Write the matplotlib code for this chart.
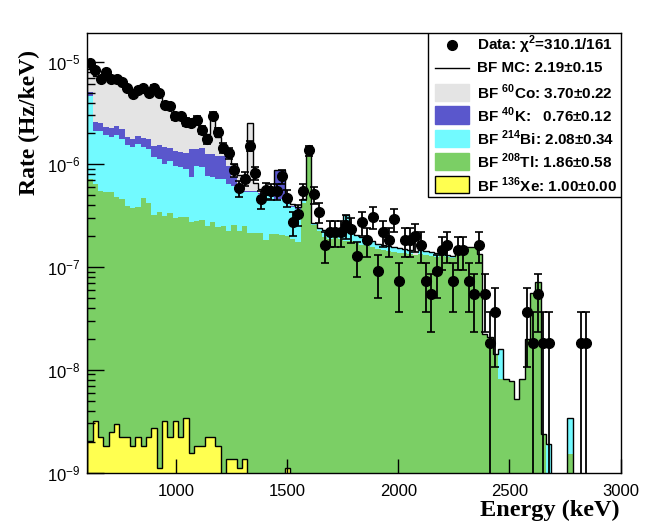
import numpy as np
import matplotlib
matplotlib.use("Agg")
import matplotlib.pyplot as plt
from matplotlib.patches import Rectangle
from matplotlib.ticker import FixedLocator, NullLocator, NullFormatter

# binning of the spectrum (keV)
e_min, e_max, bin_width = 600, 3000, 24

# measured counts per bin and the rate one count corresponds to
data_counts = [535, 454, 370, 438, 376, 376, 349, 301, 264, 289,
               301, 269, 305, 273, 207, 204, 162, 161, 143, 139,
               149, 119, 97, 164, 114, 80, 71, 48, 32, 40,
               83, 45, 25, 31, 30, 30, 42, 26, 15, 18,
               30, 75, 28, 19, 9, 12, 12, 12, 14, 13,
               7, 15, 10, 17, 5, 12, 10, 16, 4, 10,
               10, 11, 9, 4, 3, 5, 8, 9, 4, 8,
               8, 4, 3, 9, 3, 1, 2, 0, 0, 0,
               0, 0, 2, 1, 3, 1, 1, 0, 0, 0,
               0, 0, 1, 1, 0, 0, 0, 0, 0, 0]
rate_per_count = 1.82e-8  # Hz/keV

# best-fit MC components
xe_1e9 = [2.02, 3.17, 2.23, 1.81, 2.49, 2.99, 2.23, 2.23, 1.81, 2.23,
          1.81, 2.23, 2.73, 1.11, 3.17, 2.23, 3.17, 2.23, 3.36, 1.56,
          1.81, 1.81, 2.23, 2.23, 1.81, 0, 1.36, 1.36, 1.11, 1.36,
          0, 0, 0, 0, 0, 0, 0, 1.1, 0, 0,
          0, 0, 0, 0, 0, 0, 0, 0, 0, 0,
          0, 0, 0, 0, 0, 0, 0, 0, 0, 0,
          0, 0, 0, 0, 0, 0, 0, 0, 0, 0,
          0, 0, 0, 0, 0, 0, 0, 0, 0, 0,
          0, 0, 0, 0, 0, 0, 0, 0, 0, 0,
          0, 0, 0, 0, 0, 0, 0, 0, 0, 0]
tl_1e7 = [7.20, 6.42, 5.49, 5.37, 5.37, 4.79, 4.59, 3.92, 3.74, 3.83,
          4.70, 4.19, 3.19, 3.43, 3.12, 3.34, 2.98, 3.05, 3.04, 2.73,
          2.79, 2.85, 2.49, 2.73, 2.44, 2.51, 2.23, 2.56, 2.23, 2.50,
          2.15, 2.15, 2.15, 1.83, 2.10, 2.10, 2.05, 2.00, 1.88, 1.75,
          4.21, 13.85, 2.57, 2.24, 1.96, 1.88, 1.96, 1.88, 1.79, 1.79,
          1.71, 1.64, 1.60, 1.57, 1.50, 1.47, 1.43, 1.40, 1.37, 1.37,
          1.34, 1.31, 1.34, 1.31, 1.28, 1.25, 1.28, 1.25, 1.22, 1.34,
          1.53, 1.53, 1.53, 1.31, 0.222, 0.208, 0.142, 0.081, 0.081, 0.077,
          0.052, 0.081, 0.198, 0.557, 0.714, 0.0235, 0.008, 0, 0, 0,
          0.015, 0, 0, 0, 0, 0, 0, 0, 0, 0]
bi_1e7 = [39.4, 14.75, 15.7, 14.0, 13.2, 14.6, 13.1, 11.6, 11.1, 12.0,
          10.1, 9.96, 8.62, 7.87, 6.96, 7.46, 6.66, 6.38, 5.97, 4.80,
          6.86, 6.58, 5.21, 4.80, 4.76, 4.71, 4.21, 3.60, 3.27, 2.88,
          3.24, 3.24, 3.01, 3.33, 2.72, 2.51, 2.56, 2.11, 1.97, 1.93,
          0.30, 0.32, 0.12, 0.16, 0.34, 0.36, 0.28, 0.47, 1.43, 0.36,
          0.34, 0.32, 0.28, 0.22, 0.18, 0.17, 0.17, 0.17, 0.16, 0.13,
          0.13, 0.0, 0.13, 0.12, 0.12, 0.12, 0.06, 0.06, 0.06, 0.03,
          0.04, 0.04, 0.04, 0.03, 0, 0, 0, 0.077, 0, 0,
          0, 0, 0, 0, 0, 0, 0.011, 0, 0, 0,
          0.019, 0, 0, 0, 0, 0, 0, 0, 0, 0]
k_1e7 = [4.36, 4.78, 4.21, 3.82, 4.16, 4.35, 4.46, 3.05, 2.92, 3.12,
         3.32, 3.57, 3.31, 4.19, 4.71, 3.67, 3.87, 3.79, 3.91, 6.62,
         4.50, 5.04, 4.94, 5.11, 4.88, 4.88, 3.22, 1.38, 0.26, 0.12,
         0.12, 0.12, 0.12, 0.12, 0.12, 4.23, 4.23, 0.05, 0.05, 0.05,
         0, 0, 0, 0, 0, 0, 0, 0, 0, 0,
         0, 0, 0, 0, 0, 0, 0, 0, 0, 0,
         0, 0, 0, 0, 0, 0, 0, 0, 0, 0,
         0, 0, 0, 0, 0, 0, 0, 0, 0, 0,
         0, 0, 0, 0, 0, 0, 0, 0, 0, 0,
         0, 0, 0, 0, 0, 0, 0, 0, 0, 0]
co_1e7 = [34.5, 47.0, 39.9, 45.1, 41.1, 38.6, 36.1, 34.8, 32.1, 30.9,
          32.8, 29.9, 33.6, 30.1, 24.1, 21.9, 19.0, 17.2, 14.9, 11.8,
          12.4, 8.2, 7.1, 16.4, 6.45, 3.05, 3.87, 2.56, 2.13, 1.71,
          19.9, 1.0, 0.5, 0.15, 0.2, 0, 0, 0.7, 0.25, 0.15,
          0.1, 0, 0, 0, 0, 0, 0, 0, 0, 0,
          0, 0, 0, 0, 0, 0, 0, 0, 0, 0,
          0, 0.57, 0, 0, 0, 0, 0, 0, 0, 0,
          0, 0, 0, 0, 0, 0, 0, 0, 0, 0,
          0, 0, 0, 0, 0, 0, 0, 0, 0, 0,
          0, 0, 0, 0, 0, 0, 0, 0, 0, 0]

x_ticks = [1000, 1500, 2000, 2500, 3000]
y_ticks = [1e-9, 1e-8, 1e-7, 1e-6, 1e-5]

legend_labels = [r"Data: χ$^{\mathbf{2}}$=310.1/161",
                 "BF MC: 2.19±0.15",
                 r"BF $^{\mathbf{60}}$Co: 3.70±0.22",
                 r"BF $^{\mathbf{40}}$K:   0.76±0.12",
                 r"BF $^{\mathbf{214}}$Bi: 2.08±0.34",
                 r"BF $^{\mathbf{208}}$Tl: 1.86±0.58",
                 r"BF $^{\mathbf{136}}$Xe: 1.00±0.00"]

col_co = "#e4e4e4"
col_k = "#5a57cc"
col_bi = "#72faff"
col_tl = "#7bcf65"
col_xe = "#ffff50"

plt.rcParams["font.family"] = ["Liberation Sans", "DejaVu Sans"]
plt.rcParams["mathtext.fontset"] = "custom"
plt.rcParams["mathtext.rm"] = "Liberation Sans"
plt.rcParams["mathtext.bf"] = "Liberation Sans:bold"

edges = np.arange(e_min, e_max + 1, bin_width)
centers = edges[:-1] + bin_width / 2
floor = 1e-12

layers = np.array([np.array(xe_1e9) * 1e-9,
                   np.array(tl_1e7) * 1e-7,
                   np.array(bi_1e7) * 1e-7,
                   np.array(k_1e7) * 1e-7,
                   np.array(co_1e7) * 1e-7])
stack = np.cumsum(layers, axis=0)
colors = [col_xe, col_tl, col_bi, col_k, col_co]

fig = plt.figure(figsize=(6.47, 5.27), dpi=100)
ax = fig.add_axes([0.1349, 0.1034, 0.8243, 0.834])
ax.set_yscale("log")

# draw stacked layers from the top one down so lower ones sit in front
for level, color in reversed(list(zip(stack, colors))):
    ax.stairs(np.maximum(level, floor), edges, baseline=floor, fill=True,
              color=color, lw=0, zorder=1)
ax.stairs(np.maximum(stack[0], floor), edges, baseline=floor, color="black",
          lw=1.0, zorder=1.2)
ax.stairs(np.maximum(stack[-1], floor), edges, baseline=floor, color="black",
          lw=1.0, zorder=1.3)

counts = np.array(data_counts, dtype=float)
has = counts > 0
rate = counts[has] * rate_per_count
err = np.sqrt(counts[has]) * rate_per_count
err_lo = np.minimum(err, rate - floor)
ax.errorbar(centers[has], rate, yerr=[err_lo, err], fmt="o", color="black",
            ms=7, elinewidth=1.3, capsize=3.2, capthick=1.2, zorder=5)

ax.set_xlim(e_min, e_max)
ax.set_ylim(1e-9, 1.9e-5)
ax.set_xticks(x_ticks)
ax.set_yticks(y_ticks)
ax.xaxis.set_minor_locator(NullLocator())
ax.yaxis.set_minor_locator(FixedLocator([m * d for d in y_ticks[:-1] for m in range(2, 10)]))
ax.yaxis.set_minor_formatter(NullFormatter())
ax.set_axisbelow(False)
ax.tick_params(which="both", direction="in", top=False, right=False, width=1)
ax.tick_params(axis="x", which="major", length=10, labelsize=12, pad=8)
ax.tick_params(axis="y", which="major", length=12, labelsize=12, pad=5)
ax.tick_params(axis="y", which="minor", length=6)
for sp in ax.spines.values():
    sp.set_linewidth(1.0)
    sp.set_zorder(6)

fig.text(0.958, 0.031, "Energy (keV)", ha="right", va="center",
         fontfamily="Liberation Serif", fontweight="bold", fontsize=17.5)
fig.text(0.045, 0.905, "Rate (Hz/keV)", ha="center", va="top", rotation=90,
         fontfamily="Liberation Serif", fontweight="bold", fontsize=17)

# legend box in the upper right corner
tr = ax.transAxes
ax.add_patch(Rectangle((0.639, 0.627), 0.361, 0.373, transform=tr,
                       facecolor="white", edgecolor="black", lw=1.0, zorder=10))
rows_y = [0.9727, 0.9197, 0.8657, 0.8134, 0.7604, 0.7072, 0.6542]
sym_x0, sym_x1, txt_x = 0.652, 0.7157, 0.730
box_h = 0.0387
for j, (yy, label) in enumerate(zip(rows_y, legend_labels)):
    if j == 0:
        ax.plot([(sym_x0 + sym_x1) / 2 - 0.0005], [yy], "o", color="black",
                ms=7, transform=tr, zorder=11, clip_on=False)
    elif j == 1:
        ax.plot([sym_x0, sym_x1], [yy, yy], color="black", lw=1.0,
                transform=tr, zorder=11, clip_on=False)
    else:
        fc = [col_co, col_k, col_bi, col_tl, col_xe][j - 2]
        ec = "black" if j == 6 else fc
        ax.add_patch(Rectangle((sym_x0, yy - box_h / 2), sym_x1 - sym_x0, box_h,
                               transform=tr, facecolor=fc, edgecolor=ec,
                               lw=1.0, zorder=11))
    ax.text(txt_x, yy, label, transform=tr, ha="left", va="center",
            fontsize=11, fontweight="bold", zorder=12)

fig.savefig("out.png", dpi=100)
